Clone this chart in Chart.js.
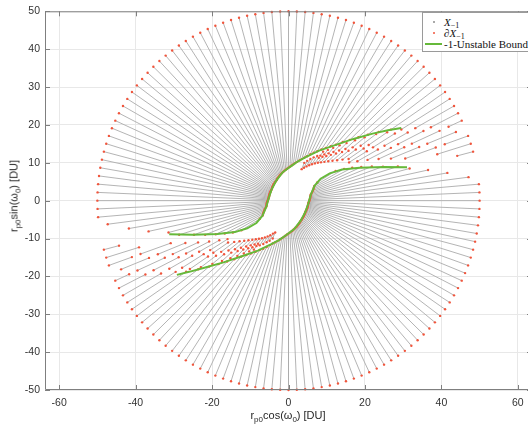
<!DOCTYPE html>
<html>
<head>
<meta charset="utf-8">
<script src="https://cdn.jsdelivr.net/npm/chart.js@4.4.1/dist/chart.umd.min.js"></script>
<style>
  html, body { margin: 0; padding: 0; background: #fff; overflow: hidden; width: 528px; height: 430px; }
  #wrap { position: relative; width: 528px; height: 430px; overflow: hidden; }
  canvas { position: absolute; left: 0; top: 0; }
  .axt { position: absolute; font-family: 'Liberation Sans', Arial, sans-serif; font-size: 11px; color: #262626; white-space: nowrap; }
  .axt sub { font-size: 8px; vertical-align: -3px; }
  #legend { position: absolute; left: 422px; top: 12px; width: 130px; height: 38px; border: 1px solid #9a9a9a; background: #fff;
            font-family: 'Liberation Serif', 'DejaVu Serif', serif; font-size: 11px; color: #111; }
  #legend .row { position: absolute; left: 0; height: 12px; line-height: 12px; white-space: nowrap; }
  #legend .txt { position: absolute; left: 21px; top: 0; }
  #legend sub { font-size: 8px; vertical-align: -2px; }
  #legend .dot { position: absolute; width: 2px; height: 2px; border-radius: 1px; left: 10px; top: 5px; }
  #legend .ln { position: absolute; left: 2px; top: 5px; width: 17px; height: 2px; background: #66b93a; }
</style>
</head>
<body>
<div id="wrap">
  <canvas id="c" width="540" height="430"></canvas>
  <div class="axt" style="left:288px; top:409px; transform:translateX(-50%);">r<sub>p0</sub>cos(ω<sub>0</sub>) [DU]</div>
  <div class="axt" style="left:15px; top:196px; transform:translate(-50%,-50%) rotate(-90deg);">r<sub>p0</sub>sin(ω<sub>0</sub>) [DU]</div>
  <div id="legend">
    <div class="row" style="top:3px"><span class="dot" style="background:#8c8c8c"></span><span class="txt"><i>X</i><sub>−1</sub></span></div>
    <div class="row" style="top:14px"><span class="dot" style="background:#f0553c"></span><span class="txt">∂<i>X</i><sub>−1</sub></span></div>
    <div class="row" style="top:25px"><span class="ln"></span><span class="txt">-1-Unstable Bound</span></div>
  </div>
</div>
<script>
// ray directions omega_0 [deg]
const omega = [
  0, 2.5, 5, 7.5, 10, 12.5, 15, 17.5, 20, 22.5, 25, 27.5,
  30, 32.5, 35, 37.5, 40, 42.5, 45, 47.5, 50, 52.5, 55, 57.5,
  60, 62.5, 65, 67.5, 70, 72.5, 75, 77.5, 80, 82.5, 85, 87.5,
  90, 92.5, 95, 97.5, 100, 102.5, 105, 107.5, 110, 112.5, 115, 117.5,
  120, 122.5, 125, 127.5, 130, 132.5, 135, 137.5, 140, 142.5, 145, 147.5,
  150, 152.5, 155, 157.5, 160, 162.5, 165, 167.5, 170, 172.5, 175, 177.5,
  180, 182.5, 185, 187.5, 190, 192.5, 195, 197.5, 200, 202.5, 205, 207.5,
  210, 212.5, 215, 217.5, 220, 222.5, 225, 227.5, 230, 232.5, 235, 237.5,
  240, 242.5, 245, 247.5, 250, 252.5, 255, 257.5, 260, 262.5, 265, 267.5,
  270, 272.5, 275, 277.5, 280, 282.5, 285, 287.5, 290, 292.5, 295, 297.5,
  300, 302.5, 305, 307.5, 310, 312.5, 315, 317.5, 320, 322.5, 325, 327.5,
  330, 332.5, 335, 337.5, 340, 342.5, 345, 347.5, 350, 352.5, 355, 357.5
];
// r_p0 where each ray's continuous part starts / ends [DU]
const rStart = [
  5.45, 5.55, 5.65, 5.75, 5.8, 5.9, 6.0, 6.3, 6.6, 6.9, 7.2, 7.5,
  7.8, 8.9, 32.7, 29.75, 27.1, 24.8, 22.7, 21.0, 19.3, 18.1, 17.0, 16.0,
  15.05, 14.3, 13.5, 12.7, 12.05, 11.5, 11.0, 10.5, 10.1, 9.7, 9.3, 8.95,
  8.7, 8.45, 8.2, 8.0, 7.75, 7.55, 7.35, 7.2, 7.0, 6.8, 6.65, 6.45,
  6.25, 6.15, 6.05, 5.95, 5.88, 5.8, 5.7, 5.6, 5.53, 5.45, 5.35, 5.32,
  5.3, 5.3, 5.28, 5.27, 5.26, 5.25, 5.25, 5.24, 5.23, 5.23, 5.29, 5.38,
  5.45, 5.55, 5.65, 5.75, 5.8, 5.9, 6.0, 6.3, 6.6, 6.9, 7.2, 7.5,
  7.8, 8.9, 32.7, 29.75, 27.1, 24.8, 22.7, 21.0, 19.3, 18.1, 17.0, 16.0,
  15.05, 14.3, 13.5, 12.7, 12.05, 11.5, 11.0, 10.5, 10.1, 9.7, 9.3, 8.95,
  8.7, 8.45, 8.2, 8.0, 7.75, 7.55, 7.35, 7.2, 7.0, 6.8, 6.65, 6.45,
  6.25, 6.15, 6.05, 5.95, 5.88, 5.8, 5.7, 5.6, 5.53, 5.45, 5.35, 5.32,
  5.3, 5.3, 5.28, 5.27, 5.26, 5.25, 5.25, 5.24, 5.23, 5.23, 5.29, 5.38
];
const rEnd = [
  50, 50, 50, 47.5, 42.2, 37.4, 32.8, 30, 26.3, 23.6, 21.0, 18.8,
  16.8, 14.6, 50, 50, 50, 50, 50, 50, 50, 50, 50, 50,
  50, 50, 50, 50, 50, 50, 50, 50, 50, 50, 50, 50,
  50, 50, 50, 50, 50, 50, 50, 50, 50, 50, 50, 50,
  50, 50, 50, 50, 50, 50, 50, 50, 50, 50, 50, 50,
  50, 50, 50, 50, 50, 50, 50, 50, 50, 50, 50, 50,
  50, 50, 50, 47.7, 42.4, 37.5, 32.5, 30, 26.3, 23.6, 21.0, 18.8,
  16.8, 14.6, 50, 50, 50, 50, 50, 50, 50, 50, 50, 50,
  50, 50, 50, 50, 50, 50, 50, 50, 50, 50, 50, 50,
  50, 50, 50, 50, 50, 50, 50, 50, 50, 50, 50, 50,
  50, 50, 50, 50, 50, 50, 50, 50, 50, 50, 50, 50,
  50, 50, 50, 50, 50, 50, 50, 50, 50, 50, 50, 50
];
// broken pieces inside the two bands
const fragOmega = [
  67.5, 65, 62.5, 60, 57.5, 55, 55, 52.5, 52.5, 50, 50, 47.5, 47.5, 45, 45, 42.5, 42.5,
  40, 40, 37.5, 37.5, 35, 35, 32.5, 32.5, 32.5, 30, 30, 30, 27.5, 27.5, 27.5,
  25, 25, 25, 22.5, 22.5, 20, 20, 17.5, 15,
  247.5, 245, 242.5, 240, 237.5, 235, 235, 232.5, 232.5, 230, 230, 227.5, 227.5, 225, 225, 222.5, 222.5,
  220, 220, 217.5, 217.5, 215, 215, 212.5, 212.5, 212.5, 210, 210, 210, 207.5, 207.5, 207.5,
  205, 205, 205, 202.5, 202.5, 200, 200, 197.5, 195
];
const fragFrom = [
  9.0, 9.6, 10.2, 10.8, 11.4, 12.0, 14.5, 12.6, 15.4, 13.2, 16.3, 13.9, 17.4, 14.7, 18.7, 15.6, 20.2,
  16.6, 21.9, 17.8, 23.8, 19.2, 25.6, 18.8, 26.2, 35.0, 20.8, 29.0, 38.3, 23.3, 32.3, 42.0,
  26.0, 35.6, 46.2, 29.0, 39.3, 32.5, 43.5, 40.8, 45.7,
  9.1, 9.6, 10.3, 10.9, 11.5, 12.1, 14.6, 12.7, 15.5, 13.3, 16.4, 14.0, 17.5, 14.8, 18.8, 15.7, 20.3,
  16.7, 22.0, 17.9, 23.9, 19.3, 25.7, 18.9, 26.3, 35.0, 20.9, 29.1, 38.5, 23.4, 32.4, 42.2,
  26.1, 35.7, 46.0, 29.2, 39.5, 32.8, 43.6, 41.0, 45.9
];
const fragTo = [
  10.8, 11.6, 12.4, 13.2, 14.0, 13.8, 15.8, 14.6, 16.9, 15.4, 18.2, 16.4, 19.8, 17.6, 21.5, 19.0, 23.6,
  20.5, 26.0, 22.2, 28.9, 24.0, 31.5, 24.3, 33.0, 50, 27.0, 36.0, 50, 30.2, 39.8, 50,
  33.4, 43.6, 50, 37.0, 47.4, 41.0, 50, 50, 50,
  10.8, 11.7, 12.4, 13.2, 14.0, 13.9, 15.8, 14.6, 16.9, 15.4, 18.2, 16.4, 19.8, 17.6, 21.5, 19.0, 23.6,
  20.5, 26.0, 22.2, 28.9, 24.0, 31.5, 24.3, 33.0, 50, 27.0, 36.0, 50, 30.2, 39.8, 50,
  33.4, 43.6, 50, 37.0, 47.4, 41.2, 50, 50, 50
];
// -1-unstable bound, two branches
const boundAX = [-31.2, -25, -18.6, -14, -10.8, -8.4, -6.8, -5.8, -5.2, -4.4, -3.2, -1.5, 0.5, 2.5, 4.5, 8, 12, 17, 22, 26, 29.5];
const boundAY = [-8.9, -9.0, -8.8, -8.3, -7.3, -5.9, -4.0, -1.6, 0.6, 3.0, 5.3, 7.5, 9.0, 10.4, 11.5, 13.2, 14.6, 16.3, 17.7, 18.6, 19.2];
const boundBX = [31, 25, 18.6, 14, 10.8, 8.4, 6.8, 5.8, 5.2, 4.4, 3.2, 1.5, -0.5, -2.5, -4.5, -8, -12, -17, -22, -26, -29.2];
const boundBY = [8.8, 8.9, 8.7, 8.2, 7.2, 5.8, 3.9, 1.5, -0.7, -3.0, -5.3, -7.5, -9.0, -10.4, -11.5, -13.2, -14.6, -16.3, -17.7, -18.8, -19.6];

const xTicks = [-60, -40, -20, 0, 20, 40, 60];
const yTicks = [-50, -40, -30, -20, -10, 0, 10, 20, 30, 40, 50];

const grayPts = [];
const redPts = [];
function addPiece(w, r0, r1) {
  const c = Math.cos(w * Math.PI / 180), s = Math.sin(w * Math.PI / 180);
  grayPts.push({x: r0 * c, y: r0 * s}, {x: r1 * c, y: r1 * s}, {x: null, y: null});
  redPts.push({x: r0 * c, y: r0 * s}, {x: r1 * c, y: r1 * s});
}
omega.forEach((w, i) => addPiece(w, rStart[i], rEnd[i]));
fragOmega.forEach((w, i) => addPiece(w, fragFrom[i], fragTo[i]));

const boundA = boundAX.map((x, i) => ({x: x, y: boundAY[i]}));
const boundB = boundBX.map((x, i) => ({x: x, y: boundBY[i]}));

// box round the axes and inward ticks, matlab style
const boxPlugin = {
  id: 'box',
  afterDatasetsDraw(chart) {
    const {ctx, chartArea: a, scales: {x, y}} = chart;
    ctx.save();
    ctx.strokeStyle = '#7f7f7f';
    ctx.lineWidth = 1;
    ctx.beginPath();
    ctx.rect(a.left + 0.5, a.top + 0.5, a.right - a.left - 1, a.bottom - a.top - 1);
    xTicks.forEach(v => {
      const px = Math.round(x.getPixelForValue(v)) + 0.5;
      ctx.moveTo(px, a.bottom); ctx.lineTo(px, a.bottom - 5);
      ctx.moveTo(px, a.top); ctx.lineTo(px, a.top + 5);
    });
    yTicks.forEach(v => {
      const py = Math.round(y.getPixelForValue(v)) + 0.5;
      ctx.moveTo(a.left, py); ctx.lineTo(a.left + 5, py);
      ctx.moveTo(a.right, py); ctx.lineTo(a.right - 5, py);
    });
    ctx.stroke();
    ctx.restore();
  }
};

const tickFont = {family: "'Liberation Sans', Arial, sans-serif", size: 10.5};

new Chart(document.getElementById('c'), {
  type: 'scatter',
  data: {
    datasets: [
      {label: 'bound A', data: boundA, showLine: true, borderColor: '#66b93a', borderWidth: 2, pointRadius: 0, order: 0},
      {label: 'bound B', data: boundB, showLine: true, borderColor: '#66b93a', borderWidth: 2, pointRadius: 0, order: 0},
      {label: 'dX', data: redPts, pointRadius: 1.2, pointBorderWidth: 0, pointBackgroundColor: '#f0553c', order: 1, clip: false},
      {label: 'X', data: grayPts, showLine: true, spanGaps: false, borderColor: '#ababab', borderWidth: 0.9, pointRadius: 0, order: 2}
    ]
  },
  options: {
    responsive: false,
    animation: false,
    devicePixelRatio: 1,
    layout: {padding: {top: 7, right: 8, left: 0, bottom: 0}},
    plugins: {legend: {display: false}, tooltip: {enabled: false}},
    scales: {
      x: {
        type: 'linear', min: -63.7, max: 63.7,
        afterBuildTicks: s => { s.ticks = xTicks.map(v => ({value: v})); },
        afterFit: s => { s.height = 40; },
        grid: {color: '#e8e8e8', drawTicks: false},
        border: {display: false},
        ticks: {padding: 7, color: '#333', font: tickFont}
      },
      y: {
        type: 'linear', min: -50, max: 50,
        afterBuildTicks: s => { s.ticks = yTicks.map(v => ({value: v})); },
        afterFit: s => { s.width = 45; },
        grid: {color: '#e8e8e8', drawTicks: false},
        border: {display: false},
        ticks: {padding: 5, color: '#333', font: tickFont}
      }
    }
  },
  plugins: [boxPlugin]
});
</script>
</body>
</html>
